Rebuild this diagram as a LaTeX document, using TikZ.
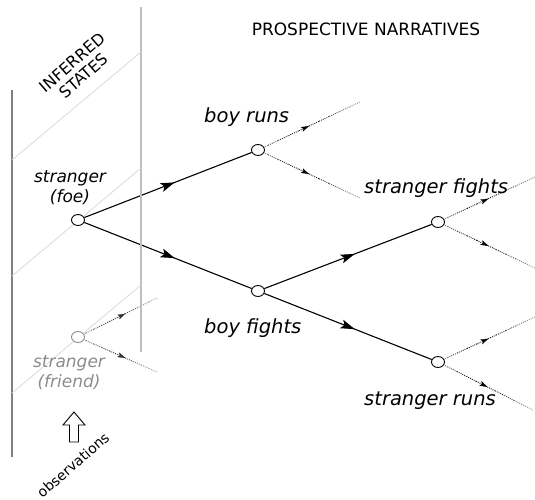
\documentclass[tikz,border=0pt]{standalone}
\usepackage{fontspec}
\setmainfont{DejaVu Sans}
\usetikzlibrary{arrows.meta,decorations.markings,calc,shapes.geometric}
\pgfdeclarelayer{bg}
\pgfsetlayers{bg,main}
\newcommand{\fadebranch}[4]{%
  \foreach \t/\c in {0/55,0.1/70,0.2/85,0.3/95,0.4/100,0.5/95,0.6/85,0.7/70,0.8/55,0.9/45}{%
    \pgfmathsetmacro\u{\t+0.1}%
    \pgfmathtruncatemacro\cc{\c*#4}%
    \draw[dotline, black!\cc] ($(#1.center)!\t!(#2)$) -- ($(#1.center)!\u!(#2)$);
  }%
  \pgfmathtruncatemacro\ac{100*#4}%
  \path[color=black!\ac, postaction={decorate}, decoration={markings, mark=at position #3 with {\arrow{Stealth[length=8pt,width=5pt,inset=2pt]}}}] (#1.center) -- (#2);
}
\begin{document}
\begin{tikzpicture}[x=1pt,y=-1pt,
  state/.style={ellipse,draw=black,fill=white,minimum width=13pt,minimum height=11pt,inner sep=0pt,line width=0.9pt},
  ghost/.style={state,draw=black!45},
  mainedge/.style={line width=1.1pt, postaction={decorate}, decoration={markings,mark=at position 0.54 with {\arrow{Stealth[length=14pt,width=9pt,inset=3pt]}}}},
  dotline/.style={line width=0.9pt, dash pattern=on 0.9pt off 1.1pt},
  lbl/.style={font=\fontsize{19.5}{22}\selectfont\itshape, anchor=base west, inner sep=0pt},
  slbl/.style={font=\fontsize{17}{20}\selectfont\itshape, align=center, inner sep=0pt},
  caps/.style={font=\fontsize{16}{17.5}\selectfont, align=center, inner sep=0pt}
]
\useasboundingbox (0,0) rectangle (535,500);

% background frame lines
\draw[black!50, line width=1.2pt] (12,90) -- (12,457);
\draw[black!25, line width=1.2pt] (141,7) -- (141,352);
\draw[black!15, line width=0.8pt] (12,160) -- (141,52);
\draw[black!15, line width=0.8pt] (12,276) -- (141,168);
\draw[black!15, line width=0.8pt] (12,393) -- (141,285);

% nodes
\node[state] (foe) at (78,220) {};
\node[ghost] (friend) at (78,337) {};
\node[state] (br) at (258,150) {};
\node[state] (bf) at (258,291) {};
\node[state] (sf) at (438,222) {};
\node[state] (sr) at (438,362) {};

% free ends
\coordinate (br1) at (360,102);
\coordinate (br2) at (360,198);
\coordinate (sf1) at (535,177);
\coordinate (sf2) at (535,268);
\coordinate (sr1) at (535,317);
\coordinate (sr2) at (533,410);
\coordinate (fr1) at (157,298);
\coordinate (fr2) at (157,372);

\begin{pgfonlayer}{bg}
\draw[mainedge] (foe) -- (br);
\draw[mainedge] (foe) -- (bf);
\draw[mainedge] (bf) -- (sf);
\draw[mainedge] (bf) -- (sr);
\fadebranch{br}{br1}{0.5}{1}
\fadebranch{br}{br2}{0.5}{1}
\fadebranch{sf}{sf1}{0.52}{1}
\fadebranch{sf}{sf2}{0.52}{1}
\fadebranch{sr}{sr1}{0.52}{1}
\fadebranch{sr}{sr2}{0.52}{1}
\fadebranch{friend}{fr1}{0.6}{0.8}
\fadebranch{friend}{fr2}{0.6}{0.8}
\end{pgfonlayer}

% labels
\node[font=\fontsize{17}{20}\selectfont, anchor=base, inner sep=0pt] (title) at (366,36) {PROSPECTIVE NARRATIVES};
\node[caps, rotate=41] (inferred) at (78,69) {INFERRED\\STATES};
\node[lbl] (lbr) at (204,123) {boy runs};
\node[lbl] (lbf) at (204,333) {boy fights};
\node[lbl] (lsf) at (364,193) {stranger fights};
\node[lbl] (lsr) at (364,405) {stranger runs};
\node[slbl] (lfoe) at (70,188) {stranger\\(foe)};
\node[slbl, text=black!45] (lfriend) at (69,373) {stranger\\(friend)};
\node[font=\fontsize{14}{16}\selectfont, rotate=41, inner sep=0pt] (obs) at (73,465) {observations};

% hollow observation arrow
\draw[line width=0.9pt, fill=white] (74,412) -- (85,425) -- (78.5,425) -- (78.5,442) -- (69.5,442) -- (69.5,425) -- (63,425) -- cycle;
\end{tikzpicture}
\end{document}
